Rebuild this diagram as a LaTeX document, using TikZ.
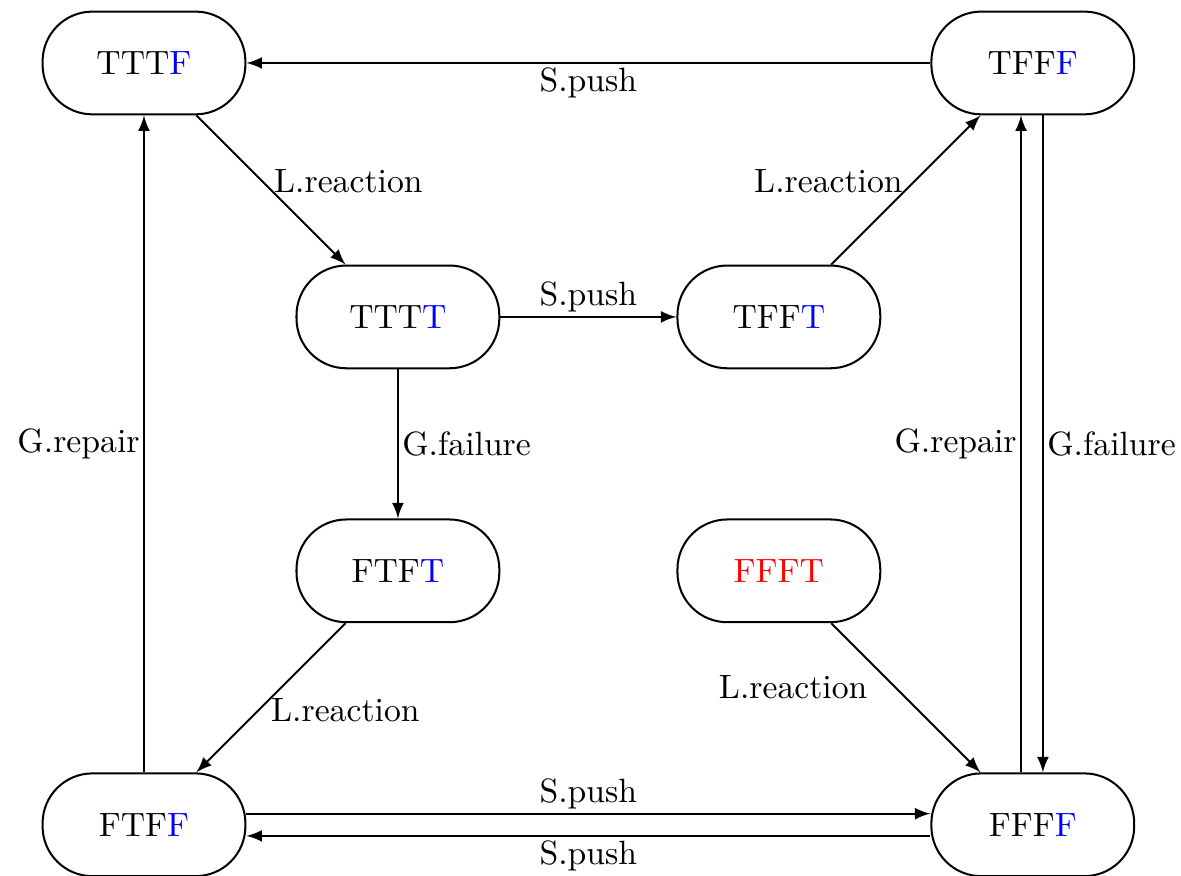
\documentclass[tikz,border=0pt]{standalone}
\usepackage{amsmath}
\usepackage{tikz}

\begin{document}
\begin{tikzpicture}[>=latex, semithick,
	state/.style={draw, rectangle, rounded corners=14.8pt, minimum width=60.2pt, minimum height=30.5pt},
	lbl/.style={inner sep=1pt}]
	%\draw[help lines, thick] (0,0) grid (12,-9);
	\useasboundingbox (0,0) rectangle (12.32,-9.13);
	\node[state] (tttf) at (1.502,-0.657) {TTT\textcolor{blue}{F}};
	\node[state] (tfff) at (10.774,-0.657) {TFF\textcolor{blue}{F}};
	\node[state] (tttt) at (4.151,-3.306) {TTT\textcolor{blue}{T}};
	\node[state] (tfft) at (8.125,-3.306) {TFF\textcolor{blue}{T}};
	\node[state] (ftft) at (4.151,-5.955) {FTF\textcolor{blue}{T}};
	\node[state] (ffft) at (8.125,-5.955) {\textcolor{red}{FFFT}};
	\node[state] (ftff) at (1.502,-8.604) {FTF\textcolor{blue}{F}};
	\node[state] (ffff) at (10.774,-8.604) {FFF\textcolor{blue}{F}};

	\draw[->] (tfff) -- node [lbl, below] {S.push} (tttf);
	\draw[->] (tttf) -- node [lbl, right, pos=0.44, xshift=2.3pt] {L.reaction} (tttt);
	\draw[->] (tttt) -- node [lbl, above] {S.push} (tfft);
	\draw[->] (tfft) -- node [lbl, left, pos=0.56, xshift=-2.3pt] {L.reaction} (tfff);
	\draw[->] (tttt) -- node [lbl, right] {G.failure} (ftft);
	\draw[->] (ftft) -- node [lbl, right, pos=0.58, xshift=2.3pt] {L.reaction} (ftff);
	\draw[->] (ffft) -- node [lbl, left, pos=0.43, xshift=-7pt] {L.reaction} (ffff);
	\draw[->] (ftff) -- node [lbl, left] {G.repair} (tttf);
	\draw[->] ([xshift=-3.5pt]ffff.north) -- node [lbl, left] {G.repair} ([xshift=-3.5pt]tfff.south);
	\draw[->] ([xshift=3pt]tfff.south) -- node [lbl, right] {G.failure} ([xshift=3pt]ffff.north);
	\draw[->] ([yshift=3.3pt]ftff.east) -- node [lbl, above] {S.push} ([yshift=3.3pt]ffff.west);
	\draw[->] ([yshift=-3.3pt]ffff.west) -- node [lbl, below] {S.push} ([yshift=-3.3pt]ftff.east);
\end{tikzpicture}
\end{document}
